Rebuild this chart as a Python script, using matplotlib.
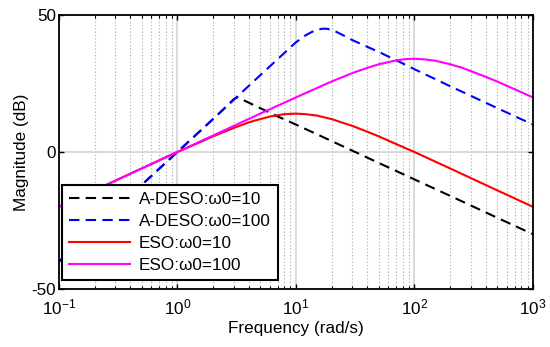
import numpy as np
import matplotlib
matplotlib.use("Agg")
import matplotlib.pyplot as plt
from matplotlib.ticker import LogLocator, NullFormatter, FixedLocator

plt.rcParams['font.family'] = ['Liberation Sans', 'DejaVu Sans']
plt.rcParams['mathtext.fontset'] = 'custom'
plt.rcParams['mathtext.rm'] = 'Liberation Sans'
plt.rcParams['mathtext.it'] = 'Liberation Sans:italic'
plt.rcParams['axes.unicode_minus'] = False

# Data (frequency in rad/s, magnitude in dB)
w_black = [0.1, 0.2, 0.5, 1, 2, 2.5, 3, 3.2, 3.5, 4, 5, 7, 10, 20, 50, 100, 200, 500, 1000]
m_black = [-40, -28, -12, 0, 12, 16, 19.3, 20, 19.2, 18, 16, 13, 10, 4, -4, -10, -16, -24, -30]

w_blue = [0.1, 0.2, 0.5, 1, 2, 5, 10, 12, 13.5, 15, 17, 18.5, 20, 22, 25, 30, 50, 70, 100, 200, 500, 1000]
m_blue = [-40, -28, -12, 0, 12, 28, 40, 42.5, 43.7, 44.6, 45, 44.9, 44.5, 43.8, 42.6, 40.8, 36.5, 33.5, 30.2, 24, 16, 10]

w_red = [0.1, 0.2, 0.5, 1, 1.5, 2, 3, 4, 5, 6, 7, 8, 10, 12, 15, 20, 30, 40, 50, 70, 100, 200, 500, 1000]
m_red = [-20, -14, -6, 0, 3.3, 5.7, 8.8, 10.8, 12, 12.9, 13.4, 13.8, 14, 13.8, 13.3, 12, 9.5, 7.4, 5.7, 2.9, 0, -6, -14, -20]

w_mag = [0.1, 0.2, 0.5, 1, 2, 5, 10, 15, 20, 30, 40, 50, 70, 85, 100, 120, 150, 200, 250, 300, 400, 500, 700, 1000]
m_mag = [-20, -14, -6, 0, 6, 14, 19.9, 23.3, 25.7, 28.8, 30.7, 32, 33.4, 33.9, 34, 33.8, 33.3, 32, 30.8, 29.5, 27.4, 25.7, 22.9, 19.9]

labels = ["A-DESO:\u03c90=10", "A-DESO:\u03c90=100", "ESO:\u03c90=10", "ESO:\u03c90=100"]

fig = plt.figure(figsize=(5.5, 3.47), dpi=100)
ax = fig.add_axes([0.107, 0.167, 0.862, 0.790])

lw = 1.5
ax.plot(w_black, m_black, color='k', lw=lw, dashes=(5, 3), label=labels[0])
ax.plot(w_blue, m_blue, color='#0000ff', lw=lw, dashes=(5, 3), label=labels[1])
ax.plot(w_red, m_red, color='#ff0000', lw=lw, label=labels[2])
ax.plot(w_mag, m_mag, color='#ff00ff', lw=lw, label=labels[3])

ax.set_xscale('log')
ax.set_xlim(0.1, 1000)
ax.set_ylim(-50, 50)
ax.yaxis.set_major_locator(FixedLocator([-50, 0, 50]))
ax.xaxis.set_major_locator(LogLocator(base=10, numticks=10))
ax.xaxis.set_minor_locator(LogLocator(base=10, subs=np.arange(2, 10), numticks=20))
ax.xaxis.set_minor_formatter(NullFormatter())

# grid: solid light major lines, dotted minor lines in x
ax.grid(True, which='major', color='#d4d4d4', lw=1.2, ls='-')
ax.grid(True, which='minor', axis='x', color='#a8a8a8', lw=0.8, ls=(0, (1, 2)))
ax.set_axisbelow(True)

fs = 12.3
ax.tick_params(which='both', direction='in', top=True, right=True, labelsize=fs, colors='k')
ax.tick_params(which='major', length=3.5, width=1)
ax.tick_params(which='minor', length=2, width=0.8)
ax.tick_params(axis='x', pad=6)
ax.tick_params(axis='y', pad=2)
for s in ax.spines.values():
    s.set_linewidth(1.3)
    s.set_color('k')

ax.set_xlabel("Frequency (rad/s)", fontsize=fs, labelpad=3)
ax.set_ylabel("Magnitude (dB)", fontsize=fs, labelpad=2)

leg = ax.legend(loc='lower left', bbox_to_anchor=(0.006, 0.033), borderaxespad=0,
                fontsize=fs, handlelength=3.6, handletextpad=0.5, labelspacing=0.4,
                fancybox=False, framealpha=1, edgecolor='k', borderpad=0.42)
leg.get_frame().set_linewidth(1.5)

fig.savefig("out.png", dpi=100)
